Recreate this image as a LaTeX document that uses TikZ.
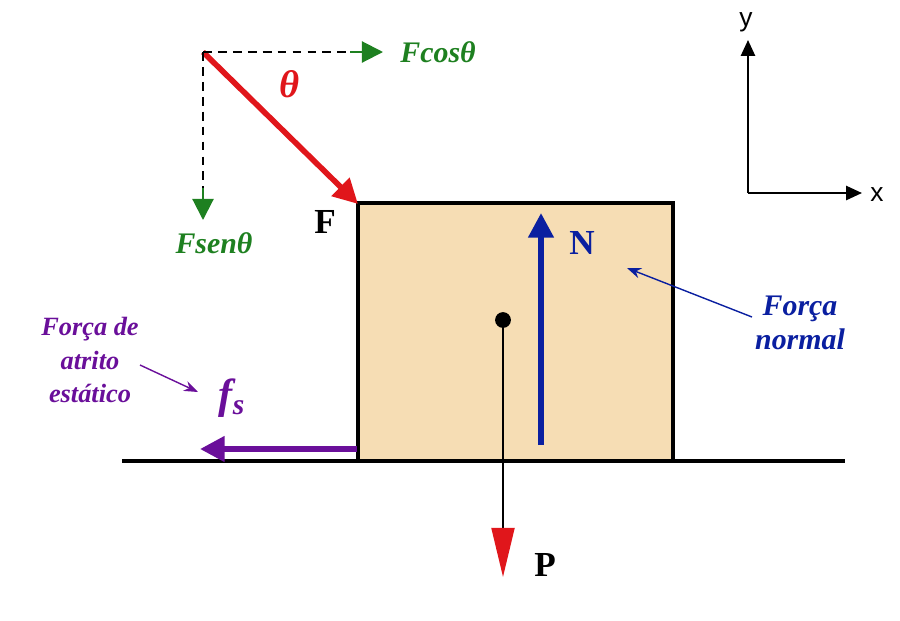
\documentclass[tikz,border=0pt]{standalone}
\usepackage{fontspec}
\setmainfont{Liberation Serif}
\setsansfont{Liberation Sans}
\usetikzlibrary{arrows.meta}
\definecolor{boxfill}{HTML}{F6DDB4}
\definecolor{fred}{HTML}{E0161B}
\definecolor{fgreen}{HTML}{1E8020}
\definecolor{fblue}{HTML}{0A1FA0}
\definecolor{fpurple}{HTML}{6A0F9A}
\begin{document}
\begin{tikzpicture}[x=0.02cm, y=-0.02cm]
	\tikzstyle{force}=[line width=3.2pt, -{Triangle[length=14pt, width=14pt]}]
	\tikzstyle{comp}=[dash pattern=on 5pt off 3.5pt, line width=1pt]
	\tikzstyle{thinarrow}=[line width=0.8pt, -{Stealth[length=8pt]}]
	\tikzstyle{lbl}=[font=\bfseries\itshape\fontsize{17}{19}\selectfont]
	\useasboundingbox (0,0) rectangle (900,620);
	% ground and block
	\draw[line width=2pt] (122,461) -- (845,461);
	\draw[fill=boxfill, line width=1.8pt] (358,203) rectangle (673,461);
	% weight
	\node[circle, fill, inner sep=0pt, minimum size=9pt] (cm) at (503,320) {};
	\coordinate (pend) at (503,577);
	\draw[line width=1.5pt] (cm) -- (503,548);
	\draw[fred, line width=1.5pt, -{Triangle[length=28pt, width=13pt]}] (503,548) -- (pend);
	\node[font=\bfseries\fontsize{20}{22}\selectfont] (P) at (545,565) {P};
	% normal
	\coordinate (nbot) at (541,445);
	\coordinate (ntop) at (541,213);
	\draw[fblue, force] (nbot) -- (ntop);
	\node[fblue, font=\bfseries\fontsize{20}{22}\selectfont] (N) at (582,243) {N};
	\node[fblue, lbl, align=center] (fn) at (800,323) {Força\\normal};
	\coordinate (fnt) at (627,268);
	\draw[fblue, thinarrow] (752,317) -- (fnt);
	% applied force
	\coordinate (o) at (203,52);
	\coordinate (ftip) at (358,204);
	\draw[fred, force] (o) -- (ftip);
	\node[font=\bfseries\fontsize{20}{22}\selectfont] (F) at (325,222) {F};
	\node[fred, font=\bfseries\itshape\fontsize{22}{24}\selectfont] (th) at (290,84) {θ};
	% components
	\coordinate (cx) at (383,52);
	\coordinate (cy) at (203,220);
	\draw[comp] (o) -- (350,52);
	\draw[comp] (o) -- (203,188);
	\draw[fgreen, line width=1.2pt, -{Triangle[length=12pt, width=12pt]}] (350,52) -- (cx);
	\draw[fgreen, line width=1.2pt, -{Triangle[length=12pt, width=12pt]}] (203,188) -- (cy);
	\node[fgreen, lbl] (fc) at (438,52) {Fcosθ};
	\node[fgreen, lbl] (fsn) at (214,243) {Fsenθ};
	% friction
	\coordinate (fsa) at (357,449);
	\coordinate (fsb) at (200,449);
	\draw[fpurple, force] (fsa) -- (fsb);
	\node[fpurple, font=\itshape\bfseries\fontsize{24}{26}\selectfont] (fs) at (232,398) {f\textsubscript{s}};
	\node[fpurple, font=\bfseries\itshape\fontsize{15}{19}\selectfont, align=center] (fat) at (90,360) {Força de\\atrito\\estático};
	\coordinate (fatt) at (198,392);
	\draw[fpurple, thinarrow] (140,365) -- (fatt);
	% axes
	\coordinate (ax) at (748,193);
	\coordinate (ay) at (748,40);
	\coordinate (axx) at (862,193);
	\draw[line width=1.2pt, -{Triangle[length=9pt, width=8pt]}] (ax) -- (ay);
	\draw[line width=1.2pt, -{Triangle[length=9pt, width=8pt]}] (ax) -- (axx);
	\node[font=\sffamily\fontsize{15}{17}\selectfont] (ly) at (746,22) {y};
	\node[font=\sffamily\fontsize{15}{17}\selectfont] (lx) at (877,195) {x};
\end{tikzpicture}
\end{document}
